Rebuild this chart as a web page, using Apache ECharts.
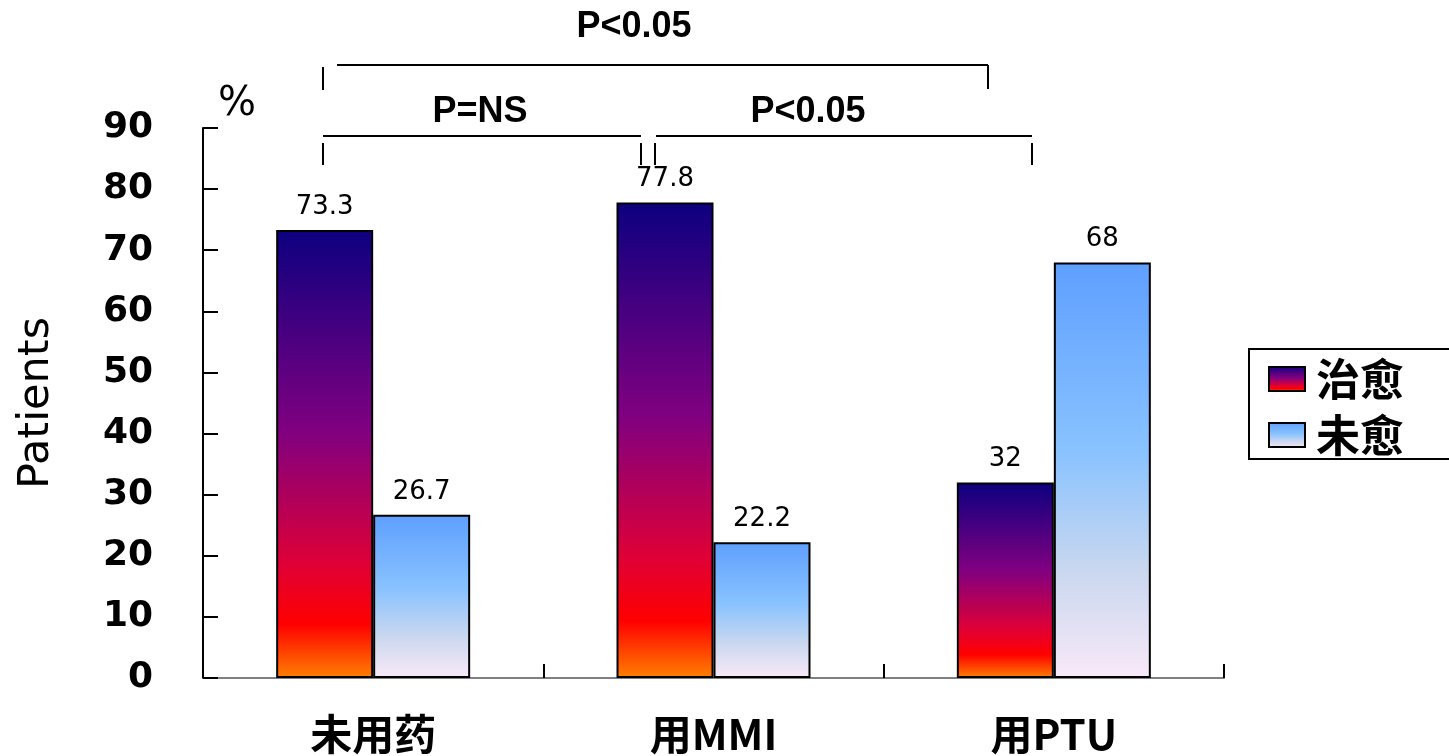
<!DOCTYPE html>
<html><head><meta charset="utf-8">
<script src="https://cdn.jsdelivr.net/npm/echarts@6/dist/echarts.min.js"></script>
<style>html,body{margin:0;padding:0;background:#fff}#c{width:1449px;height:756px}</style>
</head><body><div id="c"></div>
<script>
var categories = ['未用药', '用MMI', '用PTU'];
var seriesNames = ['治愈', '未愈'];
var curedValues = [73.3, 77.8, 32];
var notCuredValues = [26.7, 22.2, 68];
var yTicks = [0, 10, 20, 30, 40, 50, 60, 70, 80, 90];

var chart = echarts.init(document.getElementById('c'), null, {renderer: 'canvas'});
var gradCured = new echarts.graphic.LinearGradient(0, 0, 0, 1, [
  {offset: 0, color: '#0c0080'}, {offset: 0.45, color: '#800080'},
  {offset: 0.75, color: '#e00035'}, {offset: 0.88, color: '#ff0000'}, {offset: 1, color: '#ff8000'}]);
var gradNot = new echarts.graphic.LinearGradient(0, 0, 0, 1, [
  {offset: 0, color: '#5f9fff'}, {offset: 0.45, color: '#88c2ff'},
  {offset: 0.75, color: '#cbd8ef'}, {offset: 1, color: '#f9e9f8'}]);
var labelStyle = {show: true, position: 'top', distance: 10, color: '#000', fontSize: 26, fontFamily: 'DejaVu Sans'};
var annoFont = 'bold 36px "Liberation Sans", Arial, sans-serif';
function hline(x1, x2, y) { return {type: 'line', shape: {x1: x1, y1: y, x2: x2, y2: y}, style: {stroke: '#000', lineWidth: 2}}; }
function vline(x, y1, y2) { return {type: 'line', shape: {x1: x, y1: y1, x2: x, y2: y2}, style: {stroke: '#000', lineWidth: 2}}; }
function txt(t, x, y) { return {type: 'text', x: x, y: y, style: {text: t, font: annoFont, fill: '#000', align: 'center', verticalAlign: 'middle'}}; }

chart.setOption({
  animation: false,
  backgroundColor: '#fff',
  grid: {left: 203, right: 225, top: 128, bottom: 78, outerBoundsMode: 'none', containLabel: false},
  legend: {
    orient: 'vertical', left: 1249, top: 349,
    padding: [8, 60, 2, 19], itemGap: 12, itemWidth: 36, itemHeight: 24,
    borderColor: '#000', borderWidth: 2, icon: 'rect',
    data: seriesNames,
    textStyle: {fontSize: 44, lineHeight: 44, color: '#000', fontFamily: '"Noto Sans CJK SC"', fontWeight: 'bold', padding: [0, 0, 0, 6]}
  },
  xAxis: {
    type: 'category', data: categories,
    axisLine: {lineStyle: {color: '#808080', width: 2}},
    axisTick: {show: true, interval: 0, inside: true, length: 14, lineStyle: {color: '#000', width: 2}},
    axisLabel: {margin: 35, color: '#000', fontSize: 42, lineHeight: 42, fontWeight: 'bold', fontFamily: '"Noto Sans CJK SC"'}
  },
  yAxis: {
    type: 'value', min: 0, max: 90, interval: 10,
    name: 'Patients', nameLocation: 'middle', nameGap: 145, nameRotate: 90,
    nameTextStyle: {fontSize: 43, color: '#000', fontFamily: 'DejaVu Sans'},
    splitLine: {show: false},
    axisLine: {show: true, lineStyle: {color: '#000', width: 2}},
    axisTick: {show: true, inside: true, length: 15, lineStyle: {color: '#000', width: 2}},
    axisLabel: {margin: 50, color: '#000', fontSize: 36, fontWeight: 'bold', fontFamily: 'DejaVu Sans',
      formatter: function (v) { return yTicks.indexOf(v) >= 0 ? String(v) : ''; }}
  },
  series: [
    {name: seriesNames[0], type: 'bar', data: curedValues, barGap: '0%', barCategoryGap: '43%',
     itemStyle: {color: gradCured, borderColor: '#000', borderWidth: 2}, label: labelStyle},
    {name: seriesNames[1], type: 'bar', data: notCuredValues,
     itemStyle: {color: gradNot, borderColor: '#000', borderWidth: 2}, label: labelStyle}
  ],
  graphic: [
    txt('P<0.05', 634, 27),
    vline(323, 67, 90), hline(337, 988, 65), vline(988, 65, 89),
    txt('P=NS', 480, 112), txt('P<0.05', 808, 112),
    hline(323, 641, 136), vline(323, 143, 165), vline(641, 143, 165),
    hline(656, 1032, 136), vline(655, 143, 165), vline(1032, 143, 165),
    {type: 'text', x: 237, y: 105, style: {text: '%', font: '40px "DejaVu Sans"', fill: '#000', align: 'center', verticalAlign: 'middle'}}
  ]
});
</script></body></html>
